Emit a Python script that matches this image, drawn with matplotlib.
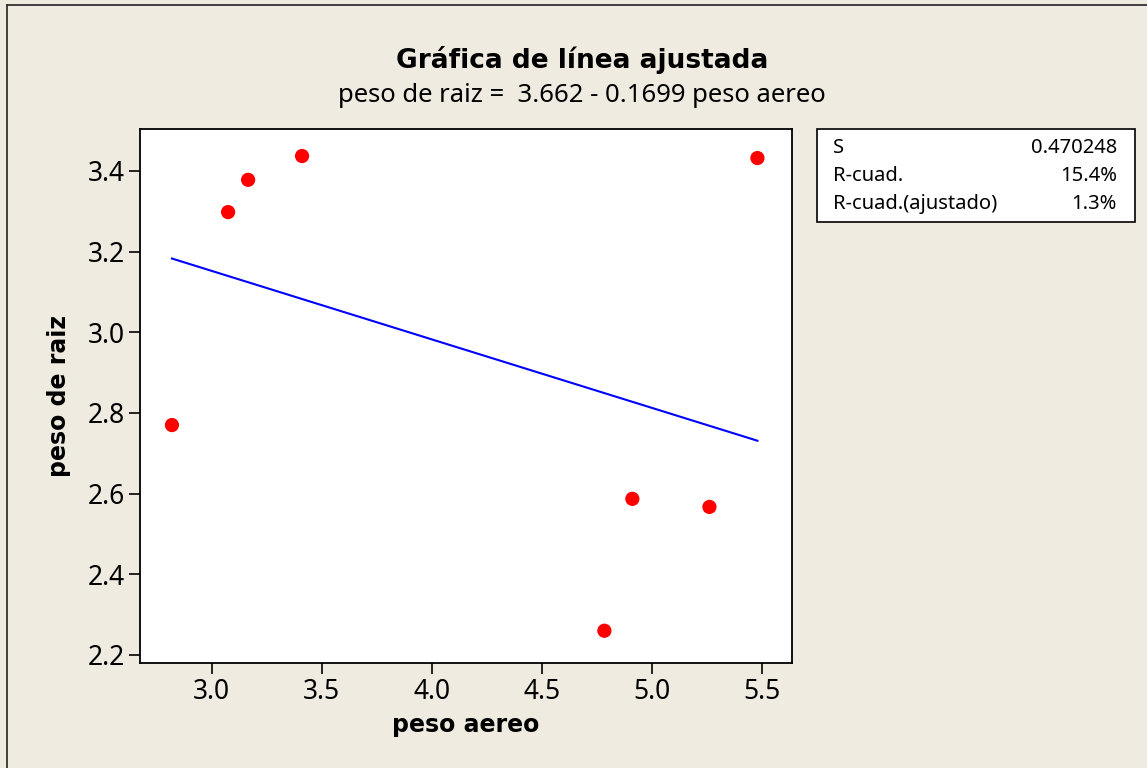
import matplotlib
matplotlib.use('Agg')
import matplotlib.pyplot as plt
from matplotlib.patches import Rectangle
from matplotlib.lines import Line2D
import numpy as np

# observed data
peso_aereo = [2.82, 3.075, 3.166, 3.411, 4.784, 4.911, 5.261, 5.479]
peso_raiz = [2.770, 3.298, 3.378, 3.437, 2.260, 2.587, 2.567, 3.432]

# regression summary
intercept = 3.662
slope = -0.1699
stats_labels = ['S', 'R-cuad.', 'R-cuad.(ajustado)']
stats_values = ['0.470248', '15.4%', '1.3%']

x_ticks = [3.0, 3.5, 4.0, 4.5, 5.0, 5.5]
y_ticks = [2.2, 2.4, 2.6, 2.8, 3.0, 3.2, 3.4]

bg = '#EFEBE1'
plt.rcParams['font.family'] = ['Noto Sans', 'DejaVu Sans']
bold = dict(family='DejaVu Sans', fontweight='bold')

fig = plt.figure(figsize=(11.47, 7.68), dpi=100, facecolor=bg)
ax = fig.add_axes([140 / 1147, 1 - 663 / 768, 652 / 1147, 534 / 768])
ax.set_facecolor('white')

# fitted line over the observed range
xs = np.linspace(min(peso_aereo), max(peso_aereo), 50)
ax.plot(xs, intercept + slope * xs, color='#0000FF', lw=1.5, zorder=2)
ax.scatter(peso_aereo, peso_raiz, s=105, color='#FF0000', edgecolors='none', zorder=3)

ax.set_xlim(2.675, 5.636)
ax.set_ylim(2.180, 3.504)
ax.set_xticks(x_ticks)
ax.set_xticklabels([f'{t:.1f}' for t in x_ticks])
ax.set_yticks(y_ticks)
ax.set_yticklabels([f'{t:.1f}' for t in y_ticks])
ax.tick_params(direction='out', length=8, width=1.2, labelsize=19, pad=3, colors='black')
for sp in ax.spines.values():
    sp.set_linewidth(1.3)

ax.set_xlabel('peso aereo', fontsize=17, labelpad=5, **bold)
ax.set_ylabel('peso de raiz', fontsize=17, labelpad=12, **bold)

fig.text(582 / 1147, 1 - 60 / 768, 'Gráfica de línea ajustada', ha='center', va='center',
         fontsize=19, **bold)
fig.text(582 / 1147, 1 - 95 / 768, f'peso de raiz =  {intercept:.3f} - {abs(slope):.4f} peso aereo',
         ha='center', va='center', fontsize=18.5)

# outer frame (left and top edges visible)
fig.add_artist(Line2D([7 / 1147, 7 / 1147], [0, 1 - 5 / 768], transform=fig.transFigure,
                      color='#333333', lw=1.3))
fig.add_artist(Line2D([7 / 1147, 1], [1 - 5 / 768, 1 - 5 / 768], transform=fig.transFigure,
                      color='#333333', lw=1.3))

# statistics box
bx0, bx1, by0, by1 = 817, 1135, 129, 222
fig.add_artist(Rectangle((bx0 / 1147, 1 - by1 / 768), (bx1 - bx0) / 1147, (by1 - by0) / 768,
                         transform=fig.transFigure, facecolor='white', edgecolor='black', lw=1.2))
row_y = [148, 176, 204]
for lab, val, ry in zip(stats_labels, stats_values, row_y):
    fig.text(833 / 1147, 1 - ry / 768, lab, ha='left', va='center', fontsize=14.5)
    fig.text(1117 / 1147, 1 - ry / 768, val, ha='right', va='center', fontsize=14.5)

fig.savefig('out.png', dpi=100, facecolor=bg)
